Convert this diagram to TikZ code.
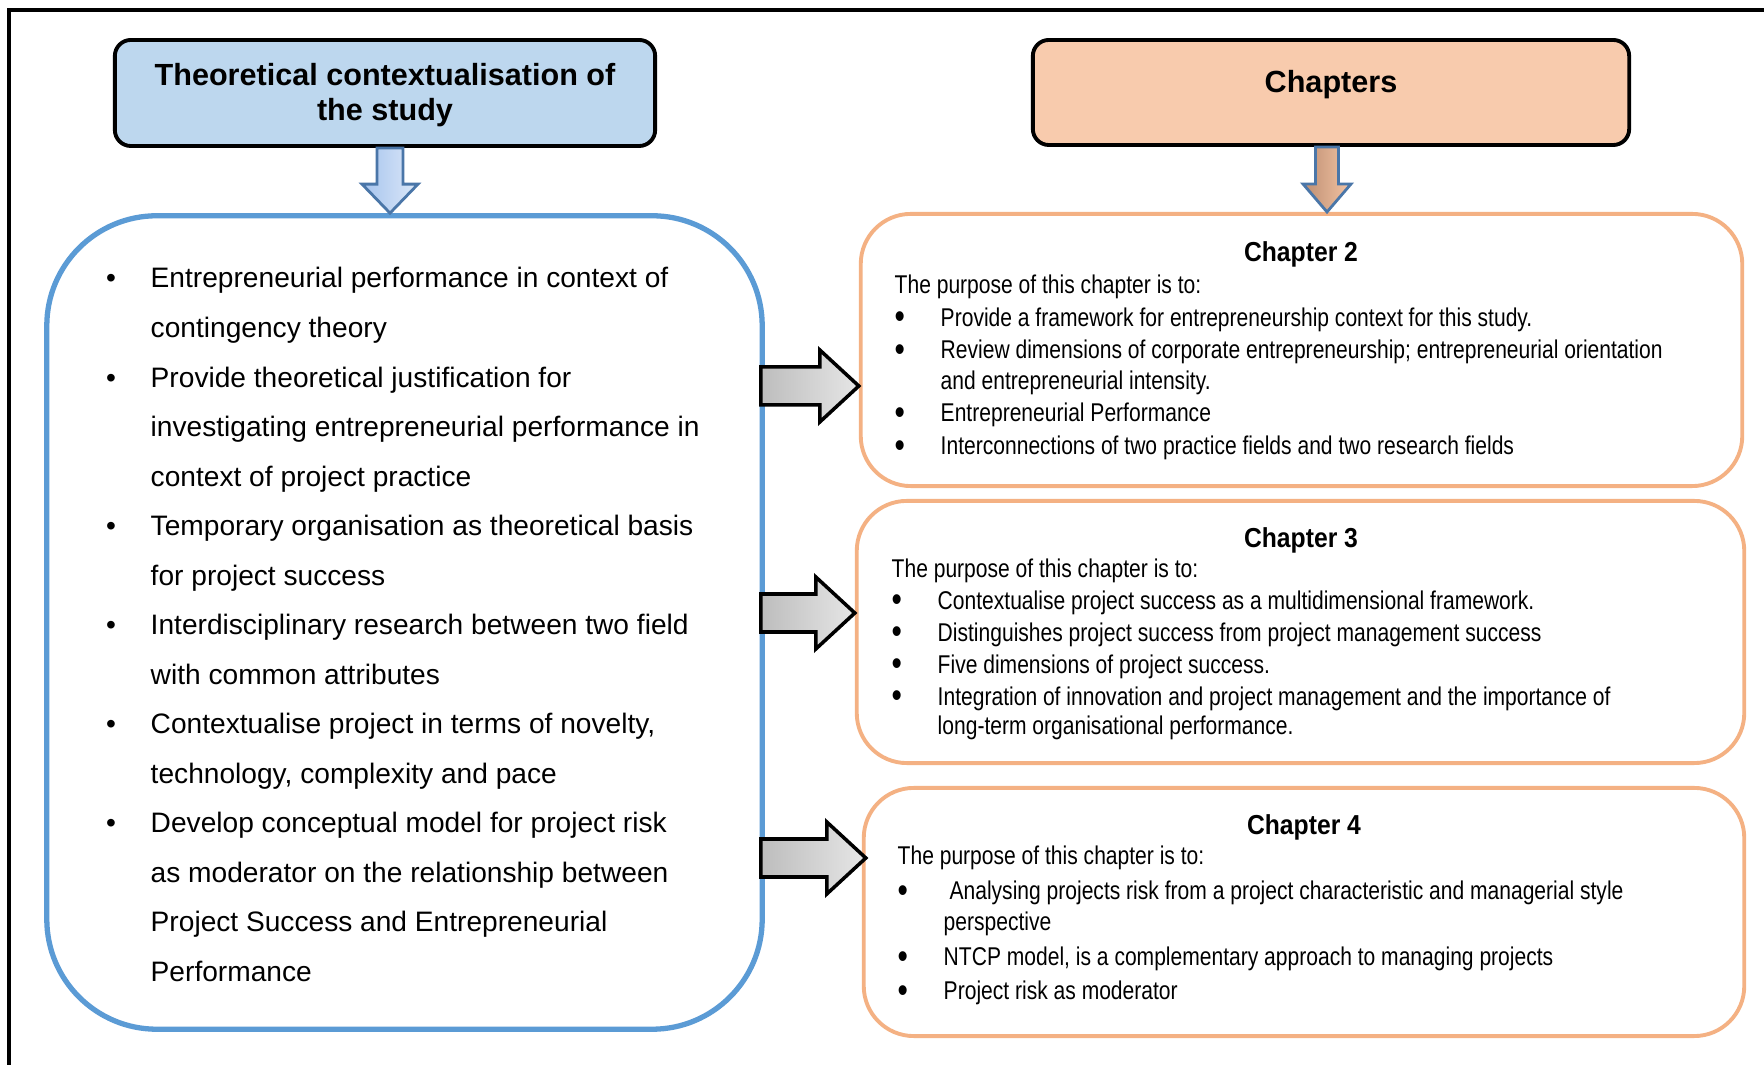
\documentclass[tikz,border=0pt]{standalone}
\usepackage{fontspec}
\usepackage{graphicx}
\setmainfont{Liberation Sans}
\newfontfamily\narrowfont{Liberation Sans}[FakeStretch=0.82]
\newfontfamily\titlefont{Liberation Sans}[FakeStretch=0.9]
\usetikzlibrary{calc}

\definecolor{hdrblue}{HTML}{BDD7EE}
\definecolor{hdrpeach}{HTML}{F8CBAD}
\definecolor{boxblue}{HTML}{5B9BD5}
\definecolor{boxorange}{HTML}{F4B183}
\definecolor{arrowedge}{HTML}{4A76A8}
\definecolor{bluedark}{HTML}{A6C4EE}
\definecolor{bluelight}{HTML}{DCE8F8}
\definecolor{browndark}{HTML}{BD8E72}
\definecolor{brownlight}{HTML}{F4C4A4}
\definecolor{greydark}{HTML}{BDBDBD}
\definecolor{greylight}{HTML}{E6E6E6}

% bullet list with fixed indents: indent, item gap, top gap, bullet
\newenvironment{dotlist}[4]{%
  \begin{list}{#4}{%
    \setlength\leftmargin{#1}\setlength\labelwidth{#1}%
    \setlength\labelsep{0pt}\setlength\itemsep{#2}%
    \setlength\parsep{0pt}\setlength\topsep{#3}\setlength\partopsep{0pt}%
    \renewcommand\makelabel[1]{\makebox[\labelwidth][l]{##1}}}}
  {\end{list}}
\newcommand\bigdot{\raisebox{-0.8pt}{\scalebox{1.4}{\textbullet}}}

% vertical block arrow: style, top point, tip, shaft half width, head half width, head length
\newcommand\downblock[6]{%
  \path[#1] ($(#2)+(-#4,0)$) -- ($(#2)+(#4,0)$) -- ($(#3)+(#4,-#6)$)
    -- ($(#3)+(#5,-#6)$) -- (#3) -- ($(#3)+(-#5,-#6)$) -- ($(#3)+(-#4,-#6)$) -- cycle;}
% horizontal block arrow: style, start point, tip, shaft half height, head half height, head length
\newcommand\rightblock[6]{%
  \path[#1] ($(#2)+(0,-#4)$) -- ($(#3)+(-#6,-#4)$) -- ($(#3)+(-#6,-#5)$)
    -- (#3) -- ($(#3)+(-#6,#5)$) -- ($(#3)+(-#6,#4)$) -- ($(#2)+(0,#4)$) -- cycle;}

\begin{document}
\begin{tikzpicture}[x=0.01cm,y=-0.01cm,
  hdr/.style={draw=black,line width=1.1pt,rounded corners=0.16cm,inner sep=0pt,
    align=center,font=\bfseries\fontsize{8.7}{10}\selectfont},
  bigbox/.style={draw=boxblue,line width=1.5pt,rounded corners=1.1cm,inner sep=0pt},
  chbox/.style={draw=boxorange,line width=1.1pt,rounded corners=0.5cm,inner sep=0pt},
  chtitle/.style={inner sep=0pt,font=\titlefont\bfseries\fontsize{7.8}{9}\selectfont},
  txt/.style={inner sep=0pt,anchor=base west},
  dnblue/.style={draw=arrowedge,line width=0.8pt,left color=bluedark,right color=bluelight},
  dnbrown/.style={draw=arrowedge,line width=0.8pt,left color=browndark,right color=brownlight},
  rtgrey/.style={draw=black,line width=1pt,line join=miter,left color=greydark,right color=greylight},
]
\useasboundingbox (0,0) rectangle (1764,1065);
\fill[white] (0,0) rectangle (1764,1065);

% frame
\draw[line width=0.9pt] (9,1065) -- (9,10) -- (1764,10);

% headers
\node[hdr,fill=hdrblue,minimum width=5.40cm,minimum height=1.06cm] (th) at (385,93) {};
\node[inner sep=0pt,align=center,font=\bfseries\fontsize{8.7}{10}\selectfont] (thl) at ($(th.center)+(0,2)$)
  {Theoretical contextualisation of\\the study};
\node[hdr,fill=hdrpeach,minimum width=5.96cm,minimum height=1.05cm] (ch) at (1331,92.5) {};
\node[inner sep=0pt,font=\bfseries\fontsize{8.7}{10}\selectfont] (chl) at ($(ch.center)+(0,-8)$) {Chapters};

% main boxes
\node[bigbox,minimum width=7.15cm,minimum height=8.13cm] (lb) at (404.5,622.5) {};
\node[chbox,minimum width=8.81cm,minimum height=2.72cm] (c2) at (1301.5,350) {};
\node[chbox,minimum width=8.87cm,minimum height=2.62cm] (c3) at (1300.5,632) {};
\node[chbox,minimum width=8.80cm,minimum height=2.48cm] (c4) at (1304,912) {};

% downward block arrows
\coordinate (d1s) at ($(th.south)+(5,0)$);
\coordinate (d1e) at (d1s |- lb.north);
\downblock{dnblue}{d1s}{d1e}{13}{28}{29}
\coordinate (d2s) at ($(ch.south)+(-4,0)$);
\coordinate (d2e) at (d2s |- c2.north);
\downblock{dnbrown}{d2s}{d2e}{11.5}{24}{28}

% arrows to the chapters
\coordinate (r1s) at ($(lb.east |- c2.west)+(-4,36)$);
\coordinate (r1e) at (c2.west |- r1s);
\rightblock{rtgrey}{r1s}{r1e}{19}{36}{39}
\coordinate (r2s) at ($(lb.east |- c3.west)+(-4,-19)$);
\coordinate (r2e) at (c3.west |- r2s);
\rightblock{rtgrey}{r2s}{r2e}{19}{36}{39}
\coordinate (r3s) at ($(lb.east |- c4.west)+(-4,-54)$);
\coordinate (r3e) at ($(c4.west |- r3s)+(4,0)$);
\rightblock{rtgrey}{r3s}{r3e}{19}{36}{39}

% left column text
\node[txt] (lt) at (103,288) {\begin{minipage}[t]{6.5cm}\raggedright
  \fontsize{8}{14.08}\selectfont
  \begin{dotlist}{0.47cm}{0pt}{0pt}{\hspace{0.7pt}\textbullet}
  \item Entrepreneurial performance in context of\newline contingency theory
  \item Provide theoretical justification for\newline investigating entrepreneurial performance in\newline context of project practice
  \item Temporary organisation as theoretical basis\newline for project success
  \item Interdisciplinary research between two field\newline with common attributes
  \item Contextualise project in terms of novelty,\newline technology, complexity and pace
  \item Develop conceptual model for project risk\newline as moderator on the relationship between\newline Project Success and Entrepreneurial\newline Performance
  \end{dotlist}\end{minipage}};

% chapter 2
\node[chtitle] (t2) at (1301,254) {Chapter 2};
\node[txt] (b2) at (894,294) {\begin{minipage}[t]{8.2cm}\raggedright
  \narrowfont\fontsize{7.3}{8.54}\selectfont
  The purpose of this chapter is to:
  \begin{dotlist}{0.46cm}{0.8pt}{0.6pt}{\bigdot}
  \item Provide a framework for entrepreneurship context for this study.
  \item Review dimensions of corporate entrepreneurship; entrepreneurial orientation\newline and entrepreneurial intensity.
  \item Entrepreneurial Performance
  \item Interconnections of two practice fields and two research fields
  \end{dotlist}\end{minipage}};

% chapter 3
\node[chtitle] (t3) at (1301,540) {Chapter 3};
\node[txt] (b3) at (891,578) {\begin{minipage}[t]{8.2cm}\raggedright
  \narrowfont\fontsize{7.3}{8.25}\selectfont
  The purpose of this chapter is to:
  \begin{dotlist}{0.46cm}{0.85pt}{0.6pt}{\bigdot}
  \item Contextualise project success as a multidimensional framework.
  \item Distinguishes project success from project management success
  \item Five dimensions of project success.
  \item Integration of innovation and project management and the importance of\newline long-term organisational performance.
  \end{dotlist}\end{minipage}};

% chapter 4
\node[chtitle] (t4) at (1304,827) {Chapter 4};
\node[txt] (b4) at (897,865) {\begin{minipage}[t]{8.2cm}\raggedright
  \narrowfont\fontsize{7.3}{8.8}\selectfont
  The purpose of this chapter is to:
  \begin{dotlist}{0.46cm}{1pt}{1.1pt}{\bigdot}
  \item \ Analysing projects risk from a project characteristic and managerial style\newline perspective
  \item NTCP model, is a complementary approach to managing projects
  \item Project risk as moderator
  \end{dotlist}\end{minipage}};
\end{tikzpicture}
\end{document}
